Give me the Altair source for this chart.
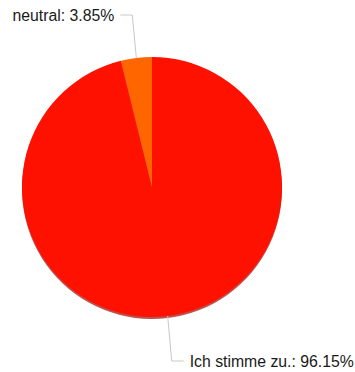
import math
import altair as alt
import pandas as pd

categories = ["Ich stimme zu.", "neutral"]
shares = [96.15, 3.85]
colors = ["#ff1100", "#ff6600"]

W, H = 355, 372
CX, CY, R = 152, 187, 130

pie_df = pd.DataFrame({"cat": categories, "share": shares, "order": [0, 1],
                       "label": [f"{c}: {s:.2f}%" for c, s in zip(categories, shares)]})

# compute slice mid-angles from the data
total = sum(shares)
mids = []
cum = 0
for s in shares:
    mids.append((cum + s / 2) / total * 2 * math.pi)
    cum += s

# label layout (elbow y, direction) for each slice
label_y = [361, 15]
rows = []
txt_rows = []
for i, (c, a) in enumerate(zip(categories, mids)):
    ex = CX + R * math.sin(a)
    ey = CY - R * math.cos(a)
    side = 1 if math.sin(a) > 0 else -1
    ly = label_y[i]
    elbow_x = ex + side * 4
    end_x = elbow_x + side * 12
    rows += [
        {"cat": c, "k": 0, "x": ex, "y": ey},
        {"cat": c, "k": 1, "x": elbow_x, "y": ly},
        {"cat": c, "k": 2, "x": end_x, "y": ly},
    ]
    txt_rows.append({"cat": c, "x": end_x + side * 6, "y": ly + 1,
                     "label": pie_df["label"][i], "side": "left" if side > 0 else "right"})

conn_df = pd.DataFrame(rows)
txt_df = pd.DataFrame(txt_rows)

xs = alt.Scale(domain=[0, W], range=[0, W])
ys = alt.Scale(domain=[0, H], range=[0, H])

shadow = alt.Chart(pie_df).mark_arc(outerRadius=R, color="#a00800", opacity=0.7).encode(
    theta=alt.Theta("share:Q", stack=True),
    order=alt.Order("order:Q"),
    x=alt.value(CX), y=alt.value(CY + 2),
)

pie = alt.Chart(pie_df).mark_arc(outerRadius=R).encode(
    theta=alt.Theta("share:Q", stack=True),
    order=alt.Order("order:Q"),
    color=alt.Color("cat:N", scale=alt.Scale(domain=categories, range=colors), legend=None),
    x=alt.value(CX), y=alt.value(CY),
)

conn = alt.Chart(conn_df).mark_line(color="#c8c8c8", strokeWidth=1).encode(
    x=alt.X("x:Q", scale=xs, axis=None),
    y=alt.Y("y:Q", scale=ys, axis=None),
    detail="cat:N",
    order="k:Q",
)

txt_r = alt.Chart(txt_df[txt_df["side"] == "right"]).mark_text(
    align="right", baseline="middle", font="Liberation Sans", fontSize=15.8, color="#1a1a1a"
).encode(x=alt.X("x:Q", scale=xs, axis=None), y=alt.Y("y:Q", scale=ys, axis=None), text="label:N")

txt_l = alt.Chart(txt_df[txt_df["side"] == "left"]).mark_text(
    align="left", baseline="middle", font="Liberation Sans", fontSize=15.8, color="#1a1a1a"
).encode(x=alt.X("x:Q", scale=xs, axis=None), y=alt.Y("y:Q", scale=ys, axis=None), text="label:N")

chart = alt.layer(shadow, pie, conn, txt_r, txt_l).resolve_scale(color="independent").properties(
    width=W, height=H, autosize=alt.AutoSizeParams(type="none"), padding=0
).configure(background="white", view=alt.ViewConfig(stroke="transparent", strokeWidth=0))

chart.save("out.html", embed_options={"renderer": "svg", "actions": False})
